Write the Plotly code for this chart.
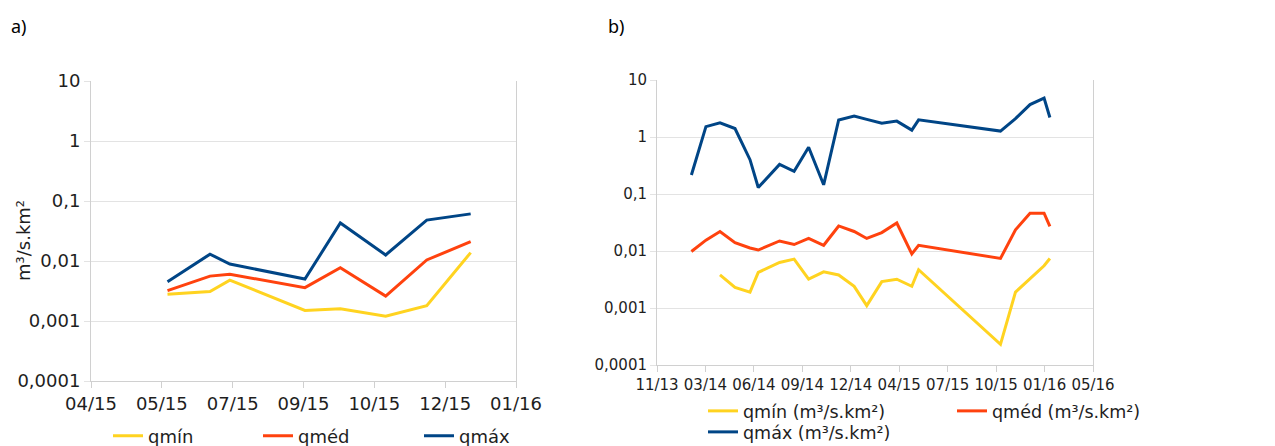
import plotly.graph_objects as go

# ---------- Panel a data ----------
dates_a = ["2015-05-30", "2015-06-29", "2015-07-13", "2015-09-04",
           "2015-09-29", "2015-10-31", "2015-11-29", "2015-12-30"]
qmin_a = [0.0028, 0.0031, 0.0048, 0.0015, 0.0016, 0.0012, 0.0018, 0.0138]
qmed_a = [0.0032, 0.0056, 0.0060, 0.0036, 0.0077, 0.0026, 0.0104, 0.021]
qmax_a = [0.0045, 0.013, 0.0089, 0.0050, 0.043, 0.0126, 0.048, 0.061]

# ---------- Panel b data ----------
dates_b = ["2014-02-01", "2014-03-03", "2014-04-01", "2014-05-02", "2014-06-02",
           "2014-06-19", "2014-08-02", "2014-09-01", "2014-10-01", "2014-11-01",
           "2014-12-02", "2015-01-03", "2015-01-29", "2015-03-01", "2015-04-01",
           "2015-05-02", "2015-05-16", "2015-11-01", "2015-12-02", "2016-01-01",
           "2016-01-30", "2016-02-11"]
qmin_b = [None, None, 0.0038, 0.0023, 0.0019, 0.0042, 0.0063, 0.0072, 0.0032, 0.0043,
          0.0038, 0.0024, 0.0011, 0.0029, 0.0032, 0.0024, 0.0047, 0.00023, 0.0019,
          0.0032, 0.0055, 0.0074]
qmed_b = [0.0098, 0.0155, 0.022, 0.014, 0.0113, 0.0104, 0.015, 0.013, 0.0166, 0.0126,
          0.0275, 0.022, 0.0166, 0.021, 0.031, 0.0089, 0.0126, 0.0074, 0.0235, 0.046,
          0.046, 0.027]
qmax_b = [0.215, 1.52, 1.78, 1.41, 0.40, 0.13, 0.33, 0.25, 0.66, 0.145, 1.99, 2.34,
          2.04, 1.74, 1.90, 1.32, 2.0, 1.27, 2.1, 3.7, 4.8, 2.2]

# ---------- Axis ticks ----------
ytick_vals = [0.0001, 0.001, 0.01, 0.1, 1, 10]
ytick_text = ["0,0001", "0,001", "0,01", "0,1", "1", "10"]
xtick_a = ["2015-04-06", "2015-05-26", "2015-07-15", "2015-09-03", "2015-10-23",
           "2015-12-12", "2016-01-31"]
xtext_a = ["04/15", "05/15", "07/15", "09/15", "10/15", "12/15", "01/16"]
xtick_b = ["2013-11-22", "2014-03-02", "2014-06-10", "2014-09-18", "2014-12-27",
           "2015-04-06", "2015-07-15", "2015-10-23", "2016-01-31", "2016-05-10"]
xtext_b = ["11/13", "03/14", "06/14", "09/14", "12/14", "04/15", "07/15", "10/15",
           "01/16", "05/16"]

names_a = ["qmín", "qméd", "qmáx"]
names_b = ["qmín (m³/s.km²)", "qméd (m³/s.km²)", "qmáx (m³/s.km²)"]
colors = ["#ffd320", "#ff420e", "#004586"]

W, H = 1275, 446
def px(x):
    return x / W
def py(y):
    return 1 - y / H

fig = go.Figure()
for i, (vals, nm) in enumerate(zip([qmin_a, qmed_a, qmax_a], names_a)):
    fig.add_trace(go.Scatter(x=dates_a, y=vals, name=nm, mode="lines",
                             line=dict(color=colors[i], width=3),
                             xaxis="x", yaxis="y", legend="legend" if i == 0 else f"legend{i+1}"))
for i, (vals, nm) in enumerate(zip([qmin_b, qmed_b, qmax_b], names_b)):
    fig.add_trace(go.Scatter(x=dates_b, y=vals, name=nm, mode="lines",
                             line=dict(color=colors[i], width=3),
                             xaxis="x2", yaxis="y2", legend=f"legend{i+4}"))

txt = "#1e1e1e"
tickfont_a = dict(family="DejaVu Sans", size=18, color=txt)
tickfont_b = dict(family="DejaVu Sans", size=15, color=txt)
grid = "#e3e3e3"
axline = "#d0d0d0"

common_x = dict(type="date", tickmode="array", ticks="outside", ticklen=6,
                tickcolor=axline, showgrid=False, showline=True, linecolor=axline,
                linewidth=1, zeroline=False, fixedrange=True, automargin=False)
common_y = dict(type="log", tickmode="array", tickvals=ytick_vals, ticktext=ytick_text,
                range=[-4, 1], ticks="outside", ticklen=6, tickcolor=grid,
                showgrid=True, gridcolor=grid, gridwidth=1, showline=True,
                linecolor=axline, mirror=True, zeroline=False, fixedrange=True,
                automargin=False)

fig.update_layout(
    width=W, height=H,
    margin=dict(l=0, r=0, t=0, b=0, autoexpand=False),
    paper_bgcolor="white", plot_bgcolor="white",
    xaxis=dict(common_x, domain=[px(91), px(516)], anchor="y",
               range=["2015-04-06", "2016-01-31"], tickvals=xtick_a, ticktext=xtext_a,
               tickfont=tickfont_a),
    yaxis=dict(common_y, domain=[py(381), py(81)], anchor="x", tickfont=tickfont_a),
    xaxis2=dict(common_x, domain=[px(657), px(1093)], anchor="y2",
                range=["2013-11-22", "2016-05-10"], tickvals=xtick_b, ticktext=xtext_b,
                tickfont=tickfont_b),
    yaxis2=dict(common_y, domain=[py(365), py(80)], anchor="x2", tickfont=tickfont_b),
    showlegend=True,
)

leg_font_a = dict(family="DejaVu Sans", size=18, color=txt)
leg_font_b = dict(family="DejaVu Sans", size=17.5, color=txt)
def leg(x, y, font):
    return dict(x=px(x), y=py(y), xanchor="left", yanchor="middle",
                bgcolor="rgba(0,0,0,0)", font=font, borderwidth=0,
                itemclick=False, itemdoubleclick=False)

fig.update_layout(
    legend=leg(108, 436, leg_font_a),
    legend2=leg(258, 436, leg_font_a),
    legend3=leg(419, 436, leg_font_a),
    legend4=leg(703, 411, leg_font_b),
    legend5=leg(952, 411, leg_font_b),
    legend6=leg(703, 432, leg_font_b),
)

fig.add_annotation(text="m³/s.km²", x=px(23), y=py(241), xref="paper", yref="paper",
                   xanchor="center", yanchor="middle", showarrow=False, textangle=-90,
                   font=dict(family="DejaVu Sans", size=18, color=txt))
fig.add_annotation(text="a)", x=px(9), y=py(26), xref="paper", yref="paper",
                   xanchor="left", yanchor="middle", showarrow=False,
                   font=dict(family="Noto Sans", size=18, color="black"))
fig.add_annotation(text="b)", x=px(606), y=py(26), xref="paper", yref="paper",
                   xanchor="left", yanchor="middle", showarrow=False,
                   font=dict(family="Noto Sans", size=18, color="black"))

fig.write_html("out.html", config={"displayModeBar": False, "staticPlot": True},
               post_script="document.body.style.margin='0';document.body.style.overflow='hidden';")
